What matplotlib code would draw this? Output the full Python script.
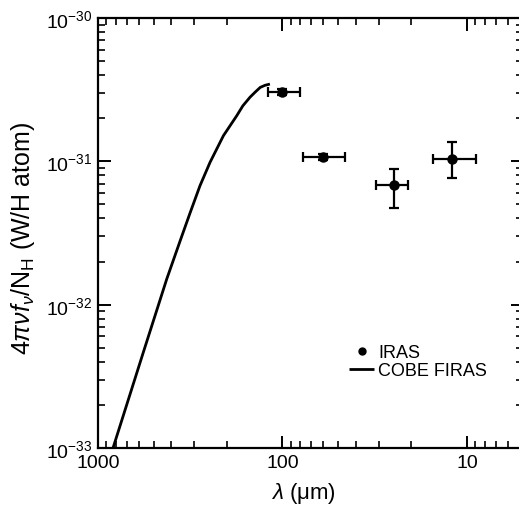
import matplotlib
matplotlib.use("Agg")
import matplotlib.pyplot as plt
import numpy as np

plt.rcParams['font.family'] = ['Liberation Sans', 'DejaVu Sans']
plt.rcParams['mathtext.fontset'] = 'custom'
plt.rcParams['mathtext.rm'] = 'Liberation Sans'
plt.rcParams['mathtext.it'] = 'Liberation Sans:italic'
plt.rcParams['mathtext.bf'] = 'Liberation Sans:bold'

# IRAS points
iras_wl = [100, 60, 25, 12]
iras_flux = [3.05e-31, 1.07e-31, 6.8e-32, 1.04e-31]
iras_flux_lo = [2.90e-31, 1.02e-31, 4.7e-32, 7.6e-32]
iras_flux_hi = [3.21e-31, 1.12e-31, 8.8e-32, 1.36e-31]
iras_wl_lo = [80, 45.6, 20.8, 8.9]
iras_wl_hi = [120.5, 77.6, 31.2, 15.2]

# COBE FIRAS curve
firas_wl = [829, 568, 424, 359, 317, 280, 247, 209, 177, 164, 150, 141, 132, 124.5, 117]
firas_flux = [1.0e-33, 4.65e-33, 1.51e-32, 2.78e-32, 4.36e-32, 6.76e-32, 9.84e-32,
              1.51e-31, 2.08e-31, 2.44e-31, 2.80e-31, 3.03e-31, 3.28e-31, 3.39e-31, 3.46e-31]

fig = plt.figure(figsize=(5.19, 5.06), dpi=100)
ax = fig.add_axes([98/519, 1-449/506, (522.5-98)/519, (449-19)/506])

ax.plot(firas_wl, firas_flux, color='black', lw=2.0, label='COBE FIRAS',
        solid_capstyle='butt', solid_joinstyle='round')

yerr = [np.array(iras_flux) - np.array(iras_flux_lo), np.array(iras_flux_hi) - np.array(iras_flux)]
xerr = [np.array(iras_wl) - np.array(iras_wl_lo), np.array(iras_wl_hi) - np.array(iras_wl)]
ax.errorbar(iras_wl, iras_flux, yerr=yerr, xerr=xerr, fmt='o', color='black',
            ms=6.5, elinewidth=1.6, capsize=3.5, capthick=1.6, lw=0)
ax.plot([], [], 'o', color='black', ms=5, label='IRAS')

ax.set_xscale('log')
ax.set_yscale('log')
ax.set_xlim(1000, 5)
ax.set_ylim(1e-33, 1e-30)

ax.set_xticks([1000, 100, 10])
ax.set_xticklabels(['1000', '100', '10'])
ax.set_yticks([1e-33, 1e-32, 1e-31, 1e-30])
ax.set_yticklabels([r'$10^{-33}$', r'$10^{-32}$', r'$10^{-31}$', r'$10^{-30}$'])

ax.tick_params(which='both', direction='in', top=True, right=True)
ax.tick_params(which='major', length=9, width=1.4, labelsize=14, pad=4)
ax.tick_params(which='minor', length=5, width=1.2)
for s in ax.spines.values():
    s.set_linewidth(1.6)

ax.set_xlabel(r'$\lambda$ ($\mathrm{\mu}$m)', fontsize=16)
ax.xaxis.set_label_coords((303-98)/424.5, (449-481)/430)
ax.set_ylabel(r'$4\pi\nu f_\nu/\mathrm{N_H}$ (W/H atom)', fontsize=18)
ax.yaxis.set_label_coords((37-98)/424.5, (449-238)/430)

handles, labels = ax.get_legend_handles_labels()
order = [labels.index('IRAS'), labels.index('COBE FIRAS')]
ax.legend([handles[i] for i in order], [labels[i] for i in order],
          loc='upper left', bbox_to_anchor=((349-98)/424.5, 1-(345-19)/430),
          frameon=False, fontsize=13, handlelength=1.4, handletextpad=0.2,
          labelspacing=0.05, borderpad=0, borderaxespad=0)

fig.savefig('out.png', dpi=100)
